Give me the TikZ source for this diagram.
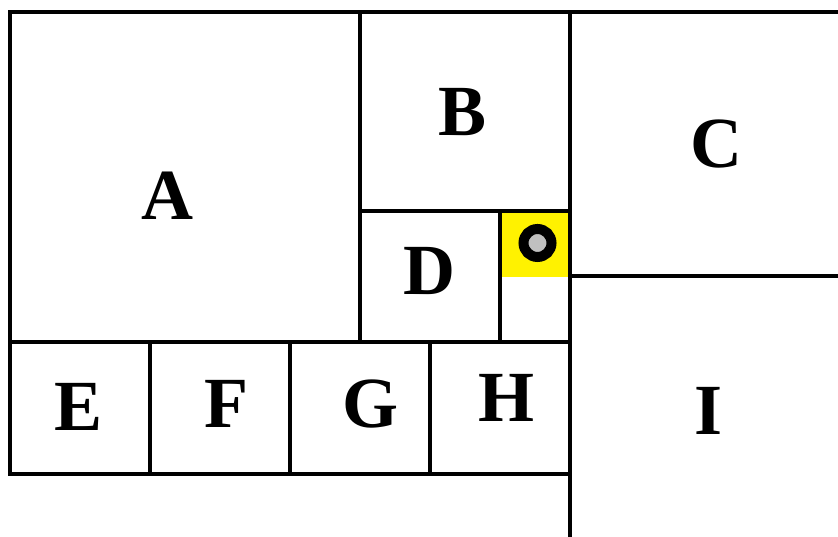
\documentclass[tikz,border=0pt]{standalone}
\usepackage{fontspec}
\setmainfont{Liberation Serif}
\begin{document}
\begin{tikzpicture}[x=1pt,y=-1pt,
  wall/.style={line width=3.3pt,draw=black},
  lbl/.style={font=\fontsize{72}{72}\selectfont\bfseries,inner sep=0pt,anchor=center}]
\useasboundingbox (0,0) rectangle (838,537);
% yellow cell with the marker
\fill[yellow] (500,211) rectangle (570,277);
\draw[line width=10pt,fill={rgb,255:red,192;green,192;blue,192}] (537.5,243) circle[radius=14];
% walls
\draw[wall,line join=miter] (570,474) -- (10,474) -- (10,12) -- (838,12);
\draw[wall] (360,12) -- (360,342);
\draw[wall] (570,12) -- (570,537);
\draw[wall] (360,211) -- (570,211);
\draw[wall] (500,211) -- (500,342);
\draw[wall] (570,276) -- (838,276);
\draw[wall] (10,342) -- (570,342);
\foreach \x in {150,290,430} \draw[wall] (\x,342) -- (\x,474);
% labels
\node[lbl] (A) at (167,196) {A};
\node[lbl] (B) at (462.5,112) {B};
\node[lbl] (C) at (716,144) {C};
\node[lbl] (D) at (429,270.5) {D};
\node[lbl] (E) at (78.5,406.5) {E};
\node[lbl] (F) at (226,404) {F};
\node[lbl] (G) at (370,404.5) {G};
\node[lbl] (H) at (506,398) {H};
\node[lbl] (I) at (709,411) {I};
\end{tikzpicture}
\end{document}
